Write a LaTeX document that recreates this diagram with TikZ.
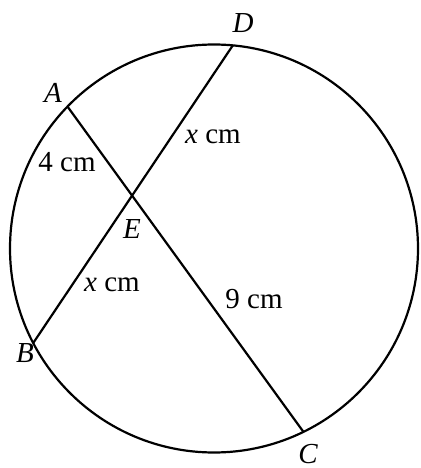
\documentclass[tikz,border=0pt]{standalone}
\usepackage{fontspec}
\setmainfont{Liberation Serif}
\usetikzlibrary{positioning}

\begin{document}
\begin{tikzpicture}[
        x=0.5pt, y=0.5pt,
        chord/.style={line width=1.1pt},
        rim/.style={line width=1.1pt},
        pointlabel/.style={inner sep=0pt, font=\fontsize{14.5}{17}\selectfont\itshape},
        lengthlabel/.style={inner sep=0pt, font=\fontsize{14.5}{17}\selectfont}
    ]
    \useasboundingbox (0,0) rectangle (421,468);

    % Circle
    \coordinate (O) at (214,219.5);
    \draw [rim] (O) circle[radius=204];

    % Points on the circle
    \coordinate (A) at ([shift={(O)}]135.9:204);
    \coordinate (D) at ([shift={(O)}]84.7:204);
    \coordinate (B) at ([shift={(O)}]207.6:204);
    \coordinate (C) at ([shift={(O)}]296:204);
    \coordinate (E) at (intersection of A--C and B--D);

    % Chords
    \draw [chord] (A) -- (C);
    \draw [chord] (B) -- (D);

    % Point labels
    \node [pointlabel] (labA) at (53,375) {A};
    \node [pointlabel] (labB) at (25,115) {B};
    \node [pointlabel] (labC) at (308,14) {C};
    \node [pointlabel] (labD) at (243,445) {D};
    \node [pointlabel] (labE) at (132,239) {E};

    % Lengths
    \node [lengthlabel] (lenAE) at (67,306) {4 cm};
    \node [lengthlabel] (lenED) at (213,331) {\textit{x} cm};
    \node [lengthlabel] (lenBE) at (112,183) {\textit{x} cm};
    \node [lengthlabel] (lenEC) at (254,169) {9 cm};

\end{tikzpicture}
\end{document}
